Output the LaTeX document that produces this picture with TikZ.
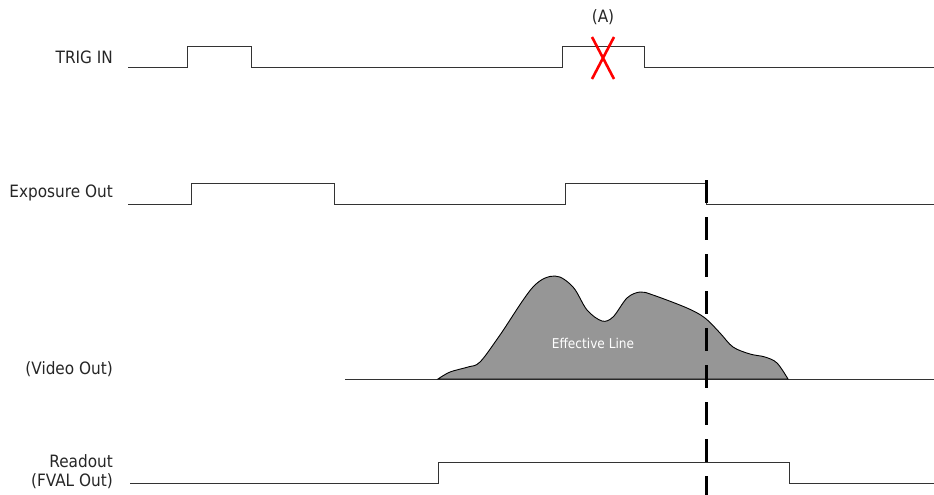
\documentclass[tikz,border=0pt]{standalone}
\usepackage{fontspec}
\setmainfont{DejaVu Sans Condensed}
\begin{document}
\begin{tikzpicture}[x=1pt,y=-1pt,
  lbl/.style={anchor=east,font=\fontsize{17}{19}\selectfont,text=black!85,inner sep=0pt},
  sig/.style={line width=1pt,draw=black!80},
  cut/.style={line width=3pt,draw=black,dash pattern=on 23pt off 14pt},
  redx/.style={line width=2.6pt,draw=red}]
\useasboundingbox (0,0) rectangle (934,495);
% labels
\node[lbl] (trig) at (113,57) {TRIG IN};
\node[lbl] (expo) at (113,193) {Exposure Out};
\node[lbl] (video) at (113,369) {(Video Out)};
\node[lbl,align=right] (read) at (113,472) {Readout\\(FVAL Out)};
\node[font=\fontsize{17}{19}\selectfont,text=black!85,inner sep=0pt] (A) at (603,17) {(A)};
% TRIG IN
\draw[sig] (128,68) -- (187,68) -- (187,47) -- (251,47) -- (251,68) -- (562,68) -- (562,47) -- (644,47) -- (644,68) -- (934,68);
% red cross
\coordinate (x1) at (592,37); \coordinate (x2) at (614,79);
\coordinate (x3) at (614,37); \coordinate (x4) at (592,79);
\draw[redx] (x1) -- (x2);
\draw[redx] (x3) -- (x4);
% Exposure Out
\draw[sig] (128,204) -- (191,204) -- (191,183) -- (334,183) -- (334,204) -- (565,204) -- (565,183) -- (706,183) -- (706,204) -- (934,204);
% Video Out
\draw[sig] (345,379) -- (934,379);
\filldraw[fill=black!41,draw=black,line width=0.9pt] plot[smooth,tension=0.55] coordinates {
 (438,379) (450,372) (468,367) (480,362) (500,335) (533,287) (555,276) (573,287) (587,310) (602,321) (613,317) (627,298) (640,292) (653,295) (687,308) (705,318) (720,333) (733,347) (750,354) (765,357) (777,363) (788,379)} -- cycle;
\node[font=\fontsize{13.5}{15}\selectfont,text=white,inner sep=0pt] (eff) at (593,343) {Effective Line};
% Readout
\draw[sig] (130,483) -- (438,483) -- (438,462) -- (789,462) -- (789,483) -- (934,483);
% cut line
\coordinate (ctop) at (706,180);
\coordinate (cbot) at (706,495);
\draw[cut] (ctop) -- (cbot);
\end{tikzpicture}
\end{document}
